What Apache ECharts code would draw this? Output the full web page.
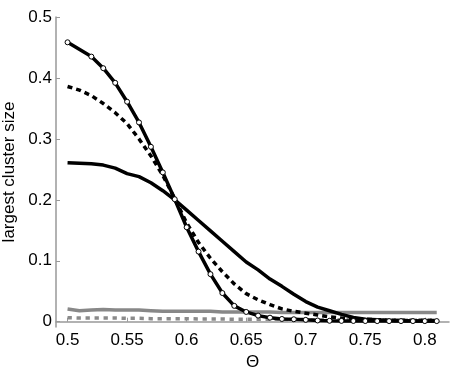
<!DOCTYPE html>
<html>
<head>
<meta charset="utf-8">
<script src="https://cdn.jsdelivr.net/npm/echarts@6/dist/echarts.min.js"></script>
<style>
    html, body { margin: 0; padding: 0; background: #fff; }
    #chart { width: 457px; height: 372px; }
</style>
</head>
<body>
<div id="chart"></div>
<script>
    // theta values (x)
    var thetas = [0.50, 0.51, 0.52, 0.53, 0.54, 0.55, 0.56, 0.57, 0.58, 0.59,
        0.60, 0.61, 0.62, 0.63, 0.64, 0.65, 0.66, 0.67, 0.68, 0.69,
        0.70, 0.71, 0.72, 0.73, 0.74, 0.75, 0.76, 0.77, 0.78, 0.79, 0.80, 0.81];

    // black line with white circles
    var markedLine = [0.4585, null, 0.435, 0.416, 0.392, 0.361, 0.327, 0.287, 0.245, 0.201,
        0.155, 0.115, 0.078, 0.047, 0.026, 0.016, 0.010, 0.0066, 0.0045, 0.004,
        0.003, 0.002, 0.0015, 0.0013, 0.0012, 0.0011, 0.001, 0.001, 0.001, 0.001, 0.001, 0.001];

    // black dashed
    var dashedBlack = [0.386, 0.380, 0.371, 0.358, 0.343, 0.325, 0.300, 0.272, 0.240, 0.202,
        0.162, 0.130, 0.104, 0.082, 0.062, 0.046, 0.036, 0.028, 0.021, 0.017,
        0.014, 0.011, 0.008, 0.006, 0.005, 0.004, 0.003, 0.002, 0.002, 0.002, 0.002, 0.002];

    // black solid
    var solidBlack = [0.261, 0.260, 0.259, 0.257, 0.252, 0.243, 0.238, 0.228, 0.215, 0.200,
        0.183, 0.166, 0.149, 0.132, 0.115, 0.098, 0.085, 0.070, 0.058, 0.045,
        0.033, 0.024, 0.018, 0.012, 0.007, 0.004, 0.003, 0.002, 0.002, 0.001, 0.001, 0.001];

    // grey solid
    var greySolid = [0.021, 0.018, 0.019, 0.020, 0.019, 0.019, 0.019, 0.018, 0.017, 0.017,
        0.017, 0.017, 0.017, 0.016, 0.016, 0.016, 0.016, 0.016, 0.015, 0.015,
        0.015, 0.015, 0.015, 0.015, 0.015, 0.015, 0.015, 0.015, 0.015, 0.015, 0.015, 0.015];

    // grey dashed
    var greyDashed = [0.0065, 0.006, 0.006, 0.006, 0.006, 0.0055, 0.0055, 0.005, 0.005, 0.005,
        0.005, 0.0045, 0.0045, 0.0045, 0.004, 0.004, 0.004, 0.004, 0.004, 0.0035,
        0.0035, 0.003, 0.003, 0.003, 0.003, 0.003, 0.003, 0.003, 0.003, 0.003, 0.003, 0.003];

    var xTicks = [0.5, 0.55, 0.6, 0.65, 0.7, 0.75, 0.8];
    var yTicks = [0, 0.1, 0.2, 0.3, 0.4, 0.5];

    function pairs(ys) {
        var out = [];
        for (var i = 0; i < thetas.length; i++) {
            out.push([thetas[i], ys[i]]);
        }
        return out;
    }

    var font = "Liberation Sans";
    var axisGrey = "#999";

    var myChart = echarts.init(document.getElementById("chart"));
    var option = {
        animation: false,
        backgroundColor: "#fff",
        grid: {
            left: 56,
            right: 8,
            top: 17,
            bottom: 45,
            containLabel: false,
            outerBoundsMode: "none"
        },
        xAxis: {
            type: "value",
            min: 0.4903,
            max: 0.8203,
            name: "Θ",
            nameLocation: "middle",
            nameGap: 19,
            nameTextStyle: {color: "#000", fontSize: 17, fontFamily: font},
            axisLine: {show: true, lineStyle: {color: axisGrey, width: 1.5}},
            axisTick: {show: true, inside: true, length: 4, customValues: xTicks, lineStyle: {color: axisGrey}},
            axisLabel: {customValues: xTicks, color: "#000", fontSize: 17, fontFamily: font, margin: 5,
                formatter: function(v) { return String(+v.toFixed(2)); }},
            splitLine: {show: false}
        },
        yAxis: {
            type: "value",
            min: -0.0087,
            max: 0.5,
            name: "largest cluster size",
            nameLocation: "middle",
            nameGap: 25,
            nameTextStyle: {color: "#000", fontSize: 17, fontFamily: font},
            axisLine: {show: true, lineStyle: {color: axisGrey, width: 1.5}},
            axisTick: {show: true, inside: true, length: 4, customValues: yTicks, lineStyle: {color: axisGrey}},
            axisLabel: {customValues: yTicks, color: "#000", fontSize: 17, fontFamily: font, margin: 4,
                formatter: function(v) { return String(+v.toFixed(1)); }},
            splitLine: {show: false}
        },
        series: [
            {
                type: "line",
                data: pairs(greyDashed),
                showSymbol: false,
                lineStyle: {color: "#8a8a8a", width: 3.5, type: [4.3, 4.7]}
            },
            {
                type: "line",
                data: pairs(greySolid),
                showSymbol: false,
                lineStyle: {color: "#888", width: 3.5}
            },
            {
                type: "line",
                data: pairs(solidBlack),
                showSymbol: false,
                lineStyle: {color: "#000", width: 3.5}
            },
            {
                type: "line",
                data: pairs(dashedBlack),
                showSymbol: false,
                lineStyle: {color: "#000", width: 3.5, type: [5, 4]}
            },
            {
                type: "line",
                data: pairs(markedLine),
                connectNulls: true,
                symbol: "circle",
                symbolSize: 5,
                showSymbol: true,
                itemStyle: {color: "#fff", borderColor: "#000", borderWidth: 1},
                lineStyle: {color: "#000", width: 3.5}
            }
        ]
    };
    myChart.setOption(option);
</script>
</body>
</html>
